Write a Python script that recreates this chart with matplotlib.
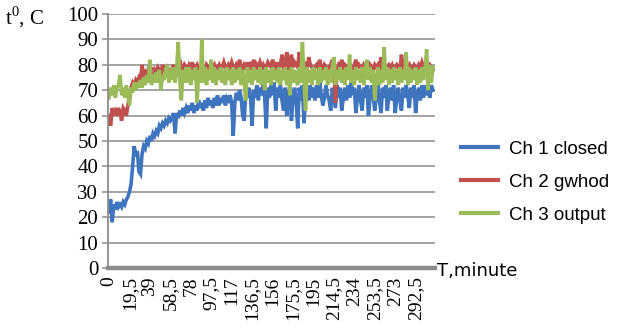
import matplotlib
matplotlib.use("Agg")
import matplotlib.pyplot as plt
import numpy as np

step_min = 1.5
ch1_closed = [
    22, 27, 18, 25, 23, 26, 24, 25, 24, 26,
    25, 27, 28, 30, 33, 40, 48, 44, 46, 38,
    37, 45, 48, 47, 50, 49, 52, 50, 53, 52,
    54, 53, 56, 55, 57, 56, 58, 57, 59, 58,
    59, 61, 53, 61, 59, 62, 60, 63, 61, 63,
    61, 64, 62, 65, 61, 64, 62, 66, 63, 65,
    62, 66, 63, 67, 64, 66, 63, 67, 64, 68,
    64, 67, 65, 68, 64, 67, 66, 68, 65, 52,
    65, 69, 66, 70, 67, 60, 58, 70, 67, 71,
    67, 56, 70, 67, 72, 66, 71, 68, 72, 67,
    55, 71, 67, 72, 68, 73, 62, 71, 67, 72,
    66, 62, 71, 60, 67, 72, 58, 67, 71, 66,
    55, 71, 66, 72, 57, 67, 71, 66, 72, 67,
    71, 66, 72, 67, 73, 68, 64, 67, 72, 68,
    66, 62, 71, 67, 63, 72, 67, 71, 62, 67,
    71, 66, 72, 67, 73, 68, 71, 61, 67, 72,
    66, 62, 71, 67, 72, 60, 67, 72, 68, 62,
    67, 72, 66, 61, 71, 67, 72, 62, 68, 71,
    66, 72, 61, 67, 71, 66, 62, 71, 67, 72,
    68, 63, 71, 67, 72, 61, 68, 71, 66, 72,
    67, 72, 68, 71, 67, 72, 70,
]
ch2_gwhod = [
    60, 56, 63, 61, 62, 60, 63, 61, 58, 63,
    62, 60, 64, 68, 71, 73, 72, 74, 73, 75,
    74, 80, 76, 77, 75, 78, 77, 79, 76, 78,
    77, 79, 78, 76, 80, 78, 77, 79, 78, 77,
    78, 80, 77, 79, 78, 82, 79, 78, 80, 79,
    78, 80, 79, 81, 78, 79, 80, 78, 79, 80,
    79, 78, 80, 79, 78, 81, 79, 80, 78, 79,
    80, 78, 79, 81, 79, 78, 80, 79, 81, 79,
    78, 80, 79, 82, 79, 78, 80, 79, 81, 78,
    80, 79, 82, 78, 80, 79, 81, 79, 80, 78,
    79, 81, 80, 79, 82, 80, 79, 81, 78, 80,
    84, 79, 80, 85, 79, 80, 84, 79, 81, 80,
    79, 85, 80, 79, 81, 80, 79, 83, 80, 79,
    78, 79, 80, 79, 82, 79, 78, 80, 79, 78,
    79, 80, 82, 79, 65, 78, 80, 79, 82, 79,
    80, 79, 78, 80, 79, 78, 80, 82, 79, 80,
    79, 78, 80, 79, 81, 78, 80, 79, 78, 80,
    79, 80, 78, 83, 79, 80, 78, 79, 80, 79,
    80, 78, 79, 80, 79, 78, 84, 79, 80, 78,
    79, 80, 78, 79, 80, 79, 78, 80, 79, 81,
    79, 80, 78, 79, 80, 79, 78,
]
ch3_output = [
    67, 71, 68, 72, 67, 71, 72, 76, 68, 71,
    67, 72, 68, 64, 71, 69, 73, 70, 73, 71,
    74, 71, 75, 72, 76, 73, 82, 72, 76, 73,
    77, 73, 78, 70, 76, 74, 78, 80, 73, 78,
    74, 79, 73, 78, 89, 74, 66, 78, 73, 79,
    73, 79, 72, 78, 74, 79, 65, 78, 73, 90,
    73, 79, 72, 78, 74, 82, 73, 79, 72, 78,
    74, 79, 73, 78, 72, 79, 74, 78, 72, 79,
    73, 78, 74, 79, 72, 78, 73, 66, 79, 73,
    78, 72, 79, 74, 78, 73, 79, 72, 78, 70,
    79, 73, 78, 72, 79, 74, 78, 73, 79, 72,
    78, 74, 79, 72, 78, 68, 79, 73, 78, 74,
    72, 79, 73, 89, 74, 62, 79, 73, 78, 72,
    79, 74, 78, 72, 79, 73, 78, 74, 79, 72,
    78, 73, 79, 83, 72, 78, 74, 79, 73, 78,
    72, 79, 74, 84, 73, 78, 72, 79, 74, 78,
    73, 79, 72, 78, 82, 74, 79, 73, 78, 66,
    74, 79, 72, 78, 73, 87, 74, 79, 72, 78,
    73, 79, 74, 78, 72, 79, 73, 78, 74, 85,
    72, 79, 73, 78, 74, 79, 72, 78, 73, 79,
    74, 78, 86, 70, 80, 73, 79,
]
series_names = ["Ch 1 closed", "Ch 2 gwhod", "Ch 3 output"]
xtick_values = [0, 19.5, 39, 58.5, 78, 97.5, 117, 136.5, 156, 175.5,
                195, 214.5, 234, 253.5, 273, 292.5]
xtick_labels = ["0", "19,5", "39", "58,5", "78", "97,5", "117", "136,5", "156",
                "175,5", "195", "214,5", "234", "253,5", "273", "292,5"]
yticks = [0, 10, 20, 30, 40, 50, 60, 70, 80, 90, 100]

colors = ["#3F74BE", "#C0504D", "#9BBB59"]

plt.rcParams['mathtext.fontset'] = 'custom'
plt.rcParams['mathtext.rm'] = 'Liberation Serif'

fig = plt.figure(figsize=(6.24, 3.34), dpi=100)
ax = fig.add_axes([108/624, 1 - 268/334, (435-108)/624, (268-14)/334])

t = np.arange(len(ch1_closed)) * step_min
for vals, c, name in zip([ch1_closed, ch2_gwhod, ch3_output], colors, series_names):
    ax.plot(t, vals, color=c, lw=2.6, label=name, solid_joinstyle='miter')

ax.set_xlim(-1, 311)
ax.set_ylim(0, 100)
ax.set_yticks(yticks)
ax.yaxis.grid(True, color="#8c8c8c", lw=1.1)
ax.set_axisbelow(True)
for s in ["top", "right", "bottom"]:
    ax.spines[s].set_visible(False)
ax.spines["left"].set_color("#8c8c8c")
ax.spines["left"].set_linewidth(1.3)
ax.axhline(0, color="#8c8c8c", lw=3.2, zorder=1, clip_on=False)

ax.set_xticks(xtick_values)
ax.set_xticklabels(xtick_labels, rotation=90, family="Liberation Serif", fontsize=14)
ax.tick_params(axis="x", length=0, pad=6)
ax.tick_params(axis="y", direction="out", length=4, color="#8c8c8c", width=1.1, pad=3,
               labelsize=15)
for lab in ax.get_yticklabels():
    lab.set_family("Liberation Serif")

fig.text(5/624, 1 - 24/334, r"t$^{\mathrm{0}}$, C", family="Liberation Serif",
         fontsize=15, ha="left", va="baseline")
fig.text(437/624, 1 - 271/334, "T,minute", family="DejaVu Sans", fontsize=13,
         ha="left", va="center")

leg = fig.legend(loc="center left", bbox_to_anchor=(452/624, 1 - 182/334),
                 frameon=False, prop={"family": "Liberation Sans", "size": 13.5},
                 handlelength=1.95, handletextpad=0.6, labelspacing=0.85, borderpad=0)
for line in leg.get_lines():
    line.set_linewidth(3)

fig.savefig("out.png", dpi=100)
